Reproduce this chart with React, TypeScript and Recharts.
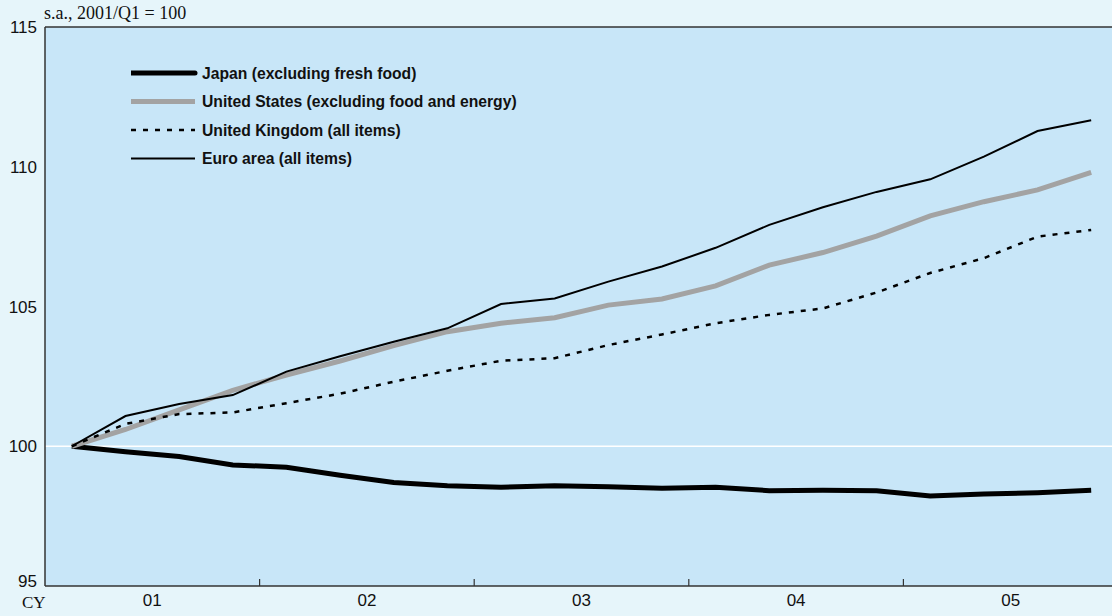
import React from "react";
import {
  CartesianGrid,
  Legend,
  Line,
  LineChart,
  ReferenceLine,
  XAxis,
  YAxis,
} from "recharts";

// quarterly CPI, s.a., 2001/Q1 = 100
const QUARTERS = [
  "2001Q1", "2001Q2", "2001Q3", "2001Q4",
  "2002Q1", "2002Q2", "2002Q3", "2002Q4",
  "2003Q1", "2003Q2", "2003Q3", "2003Q4",
  "2004Q1", "2004Q2", "2004Q3", "2004Q4",
  "2005Q1", "2005Q2", "2005Q3", "2005Q4",
];
const JAPAN = [
  100, 99.8, 99.63, 99.33, 99.25, 98.96, 98.7, 98.59, 98.53, 98.59,
  98.55, 98.5, 98.53, 98.41, 98.43, 98.41, 98.22, 98.29, 98.34, 98.43,
];
const US = [
  100, 100.6, 101.3, 102.0, 102.55, 103.05, 103.6, 104.1, 104.4, 104.6,
  105.05, 105.27, 105.74, 106.48, 106.93, 107.52, 108.24, 108.75, 109.17, 109.8,
];
const UK = [
  100, 100.8, 101.15, 101.21, 101.54, 101.88, 102.31, 102.7, 103.06, 103.15,
  103.62, 104.0, 104.4, 104.7, 104.93, 105.5, 106.2, 106.73, 107.5, 107.74,
];
const EURO = [
  100, 101.08, 101.51, 101.83, 102.67, 103.22, 103.74, 104.22, 105.09, 105.29,
  105.89, 106.43, 107.1, 107.92, 108.55, 109.1, 109.55, 110.36, 111.28, 111.66,
];

const YEAR_LABELS = ["01", "02", "03", "04", "05"];
const YEAR_MIDS = [2, 6, 10, 14, 18];
const YEAR_BREAKS = [4, 8, 12, 16];
const Y_TICKS = [95, 100, 105, 110, 115];

const SERIES = [
  { key: "japan", name: "Japan (excluding fresh food)", color: "#000000", width: 5, dash: undefined },
  { key: "us", name: "United States (excluding food and energy)", color: "#a3a3a3", width: 5, dash: undefined },
  { key: "uk", name: "United Kingdom (all items)", color: "#000000", width: 2.5, dash: "5 7" },
  { key: "euro", name: "Euro area (all items)", color: "#000000", width: 2, dash: undefined },
];

const data = QUARTERS.map((q, i) => ({
  quarter: q,
  pos: i + 0.5,
  japan: JAPAN[i],
  us: US[i],
  uk: UK[i],
  euro: EURO[i],
}));

const SANS = "'Liberation Sans', Arial, sans-serif";
const SERIF = "'Liberation Serif', 'Times New Roman', serif";

// the bottom label sits above the axis so it clears "CY"
function YTick(props: any) {
  const { x, y, payload } = props;
  const shift = payload.value === 95 ? -5 : 0;
  return (
    <text
      x={x}
      y={y + shift}
      dy="0.36em"
      textAnchor="end"
      fontFamily={SANS}
      fontSize={17}
      fill="#111"
    >
      {payload.value}
    </text>
  );
}

function LegendBox() {
  return (
    <svg width={430} height={120} style={{ display: "block" }}>
      {SERIES.map((s, i) => {
        const y = 11 + i * 28.5;
        return (
          <g key={s.key}>
            <line
              x1={0}
              x2={64}
              y1={y}
              y2={y}
              stroke={s.color}
              strokeWidth={s.width}
              strokeDasharray={s.dash}
              strokeLinecap={s.key === "japan" ? "round" : "butt"}
            />
            <text
              x={71}
              y={y}
              dy="0.36em"
              fontFamily={SANS}
              fontWeight="bold"
              fontSize={15.7}
              fill="#111"
            >
              {s.name}
            </text>
          </g>
        );
      })}
    </svg>
  );
}

export default function App() {
  return (
    <div
      style={{
        position: "absolute",
        left: 0,
        top: 0,
        width: 1112,
        height: 616,
        overflow: "hidden",
        background: "#e6f5fa",
      }}
    >
      <div
        style={{
          position: "absolute",
          left: 44,
          top: 3,
          fontFamily: SERIF,
          fontSize: 18,
          color: "#111",
          lineHeight: "20px",
        }}
      >
        s.a., 2001/Q1 = 100
      </div>
      <div
        style={{
          position: "absolute",
          left: 22,
          top: 593,
          fontFamily: SERIF,
          fontSize: 17,
          color: "#111",
          lineHeight: "20px",
        }}
      >
        CY
      </div>
      <LineChart
        width={1118}
        height={616}
        data={data}
        margin={{ top: 27, right: 0, bottom: 0, left: 0 }}
      >
        <CartesianGrid
          fill="#c8e6f8"
          horizontal={false}
          vertical={false}
        />
        <XAxis
          type="number"
          dataKey="pos"
          domain={[0, 20]}
          ticks={YEAR_MIDS}
          tickFormatter={(v) => YEAR_LABELS[YEAR_MIDS.indexOf(v)] ?? ""}
          tickLine={false}
          axisLine={{ stroke: "#333", strokeWidth: 1.5 }}
          height={30}
          tick={{ fill: "#111", fontSize: 17, fontFamily: SANS }}
        />
        <YAxis
          domain={[95, 115]}
          ticks={Y_TICKS}
          tickLine={false}
          axisLine={{ stroke: "#333", strokeWidth: 1.5 }}
          width={45}
          tick={<YTick />}
        />
        <ReferenceLine y={100} stroke="#ffffff" strokeWidth={1.5} />
        <ReferenceLine y={115} stroke="#333" strokeWidth={1.5} />
        {YEAR_BREAKS.map((x) => (
          <ReferenceLine
            key={x}
            segment={[
              { x, y: 95 },
              { x, y: 95.25 },
            ]}
            stroke="#333"
            strokeWidth={1.2}
          />
        ))}
        <Legend
          layout="vertical"
          align="center"
          verticalAlign="middle"
          content={() => <LegendBox />}
          wrapperStyle={{ left: 131, top: 62, width: 430 }}
        />
        {SERIES.map((s) => (
          <Line
            key={s.key}
            type="linear"
            dataKey={s.key}
            name={s.name}
            stroke={s.color}
            strokeWidth={s.width}
            strokeDasharray={s.dash}
            dot={false}
            activeDot={false}
            isAnimationActive={false}
          />
        ))}
      </LineChart>
    </div>
  );
}
